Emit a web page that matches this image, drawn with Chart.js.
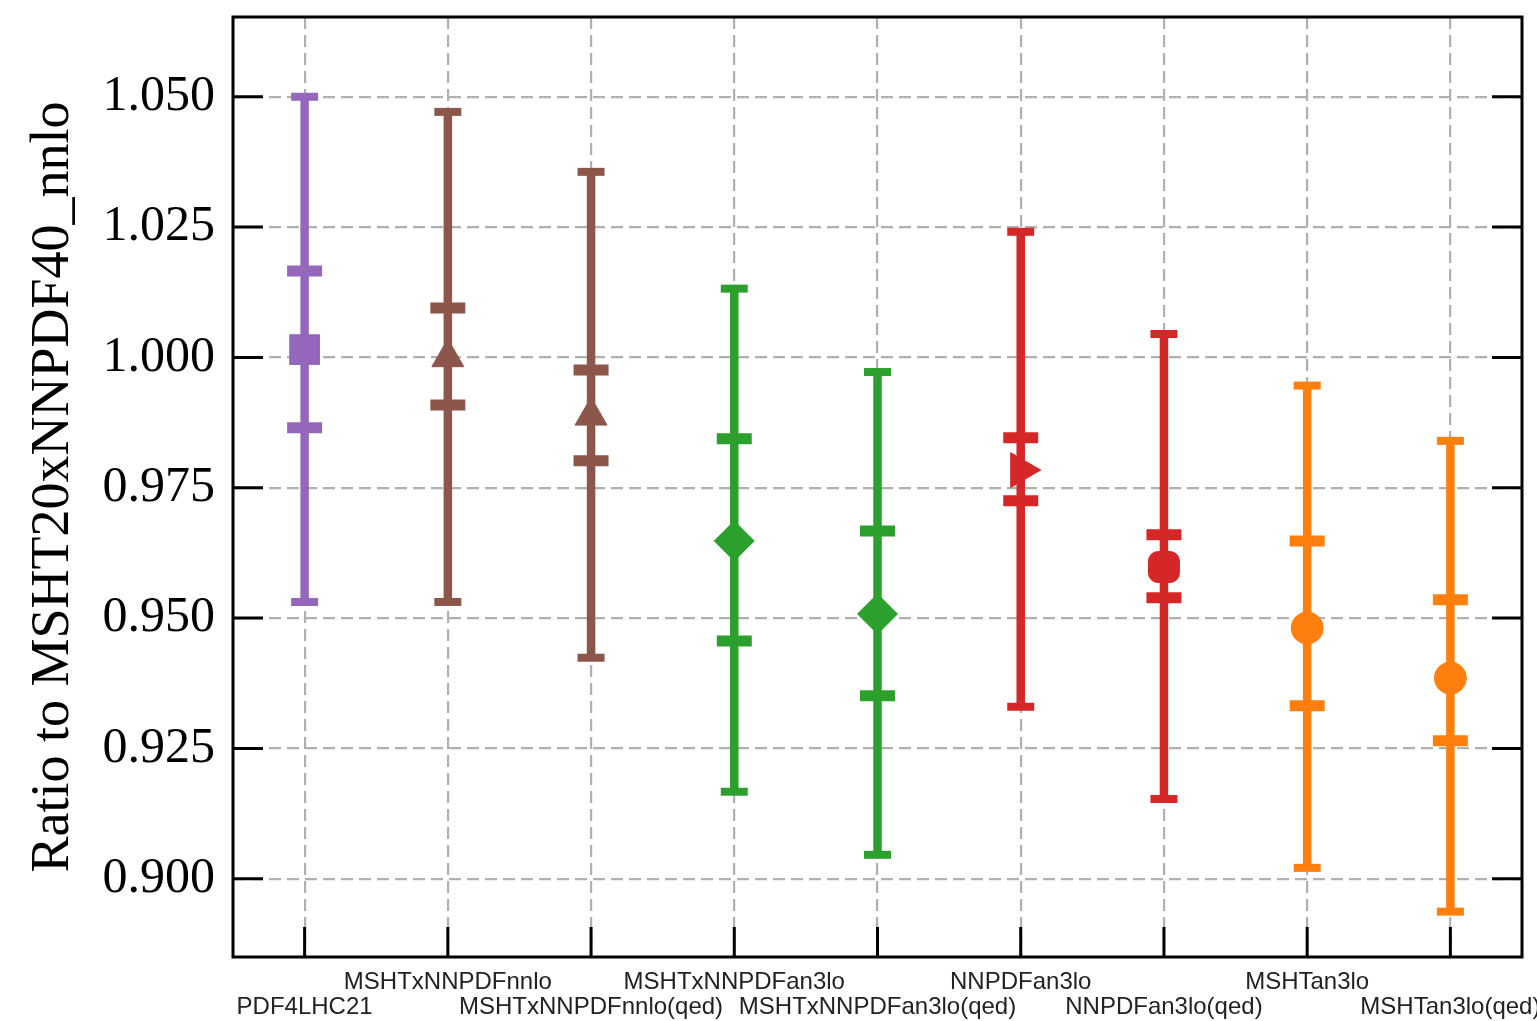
<!DOCTYPE html>
<html>
<head>
<meta charset="utf-8">
<script src="https://cdn.jsdelivr.net/npm/chart.js@4/dist/chart.umd.min.js"></script>
<style>
  html, body { margin: 0; padding: 0; background: #fff; overflow: hidden; }
  #wrap { width: 1537px; height: 1021px; position: relative; }
</style>
</head>
<body>
<div id="wrap"><canvas id="chart"></canvas></div>
<script>
// PDF sets, ratio to MSHT20xNNPDF40_nnlo
const names = [
  "PDF4LHC21", "MSHTxNNPDFnnlo", "MSHTxNNPDFnnlo(qed)",
  "MSHTxNNPDFan3lo", "MSHTxNNPDFan3lo(qed)",
  "NNPDFan3lo", "NNPDFan3lo(qed)", "MSHTan3lo", "MSHTan3lo(qed)"
]
const central = [1.0015, 1.0000, 0.9888, 0.9648, 0.9508, 0.9784, 0.9598, 0.9481, 0.9385]
const innerLo = [0.9865, 0.9909, 0.9802, 0.9456, 0.9351, 0.9725, 0.9539, 0.9332, 0.9265]
const innerHi = [1.0166, 1.0095, 0.9976, 0.9844, 0.9667, 0.9846, 0.9660, 0.9648, 0.9535]
const outerLo = [0.9531, 0.9531, 0.9424, 0.9167, 0.9046, 0.9330, 0.9153, 0.9021, 0.8937]
const outerHi = [1.0500, 1.0471, 1.0356, 1.0132, 0.9972, 1.0241, 1.0045, 0.9946, 0.9840]
const yTicks  = [0.900, 0.925, 0.950, 0.975, 1.000, 1.025, 1.050]

const PURPLE = "#9467bd", BROWN = "#8c564b", GREEN = "#2ca02c", RED = "#d62728", ORANGE = "#ff7f0e"
const colors    = [PURPLE, BROWN, BROWN, GREEN, GREEN, RED, RED, ORANGE, ORANGE]
const markers   = ["rect", "triangle", "triangle", "rectRot", "rectRot", "triangle", "rectRounded", "circle", "circle"]
const markerRot = [0, 0, 0, 0, 0, 90, 0, 0, 0]
const markerR   = [21, 18.5, 18.5, 20, 20, 20, 18, 16, 16]

// vertical bars with two sets of caps (outer band thin caps, inner band wide caps)
const errorBars = {
  id: "errorBars",
  beforeDatasetsDraw(chart) {
    const { ctx, scales: { x, y } } = chart
    const cap = (px, v, w, t) => {
      const py = y.getPixelForValue(v)
      ctx.lineWidth = t
      ctx.beginPath()
      ctx.moveTo(px - w / 2, py)
      ctx.lineTo(px + w / 2, py)
      ctx.stroke()
    }
    ctx.save()
    ctx.lineCap = "butt"
    names.forEach((_, i) => {
      const px = x.getPixelForValue(i)
      ctx.strokeStyle = colors[i]
      ctx.lineWidth = 8.5
      ctx.beginPath()
      ctx.moveTo(px, y.getPixelForValue(outerLo[i]))
      ctx.lineTo(px, y.getPixelForValue(outerHi[i]))
      ctx.stroke()
      cap(px, outerLo[i], 27, 8)
      cap(px, outerHi[i], 27, 8)
      cap(px, innerLo[i], 35, 11)
      cap(px, innerHi[i], 35, 11)
    })
    ctx.restore()
  }
}

// box frame and inward tick marks
const frame = {
  id: "frame",
  afterDatasetsDraw(chart) {
    const { ctx, chartArea: a, scales: { x, y } } = chart
    ctx.save()
    ctx.strokeStyle = "#000"
    ctx.lineWidth = 3
    ctx.beginPath()
    y.ticks.forEach(t => {
      const py = y.getPixelForValue(t.value)
      ctx.moveTo(a.left, py); ctx.lineTo(a.left + 30, py)
      ctx.moveTo(a.right - 30, py); ctx.lineTo(a.right, py)
    })
    x.ticks.forEach((t, i) => {
      const px = x.getPixelForValue(i)
      ctx.moveTo(px, a.bottom); ctx.lineTo(px, a.bottom - 30)
    })
    ctx.stroke()
    ctx.strokeRect(a.left, a.top, a.right - a.left, a.bottom - a.top)
    ctx.restore()
  }
}

new Chart(document.getElementById("chart"), {
  type: "line",
  data: {
    labels: names,
    datasets: [{
      data: central,
      showLine: false,
      pointStyle: markers,
      pointRotation: markerRot,
      pointRadius: markerR,
      pointBackgroundColor: colors,
      pointBorderColor: colors,
      pointBorderWidth: 1
    }]
  },
  options: {
    responsive: true,
    maintainAspectRatio: false,
    animation: false,
    events: [],
    layout: { autoPadding: false, padding: { top: 17, right: 15, left: 0, bottom: 0 } },
    plugins: { legend: { display: false }, tooltip: { enabled: false } },
    scales: {
      x: {
        type: "category",
        offset: true,
        grid: { color: "#b0b0b0", lineWidth: 2.2, drawTicks: false, tickLength: 0 },
        border: { display: false, dash: [12, 6] },
        ticks: {
          autoSkip: false, maxRotation: 0, minRotation: 0, padding: 13,
          color: "#222",
          font: { family: "'Liberation Sans', Arial, sans-serif", size: 24, lineHeight: 1.04 },
          callback: (v, i) => i % 2 === 0 ? ["", names[i]] : [names[i], ""]
        },
        afterFit: s => { s.height = 64; s.paddingLeft = 0; s.paddingRight = 0 }
      },
      y: {
        min: 0.885,
        max: 1.0653,
        grid: { color: "#b0b0b0", lineWidth: 2.2, drawTicks: false, tickLength: 0 },
        border: { display: false, dash: [12, 6] },
        afterBuildTicks: s => { s.ticks = yTicks.map(v => ({ value: v })) },
        ticks: {
          padding: 18,
          color: "#000",
          font: { family: "'Liberation Serif', 'Times New Roman', serif", size: 50 },
          callback: v => Number(v).toFixed(3)
        },
        title: {
          display: true,
          text: "Ratio to MSHT20xNNPDF40_nnlo",
          color: "#000",
          padding: { top: 21, bottom: 0 },
          font: { family: "'Liberation Serif', 'Times New Roman', serif", size: 54 }
        },
        afterFit: s => { s.width = 233; s.paddingTop = 0; s.paddingBottom = 0 }
      }
    }
  },
  plugins: [errorBars, frame]
})
</script>
</body>
</html>
